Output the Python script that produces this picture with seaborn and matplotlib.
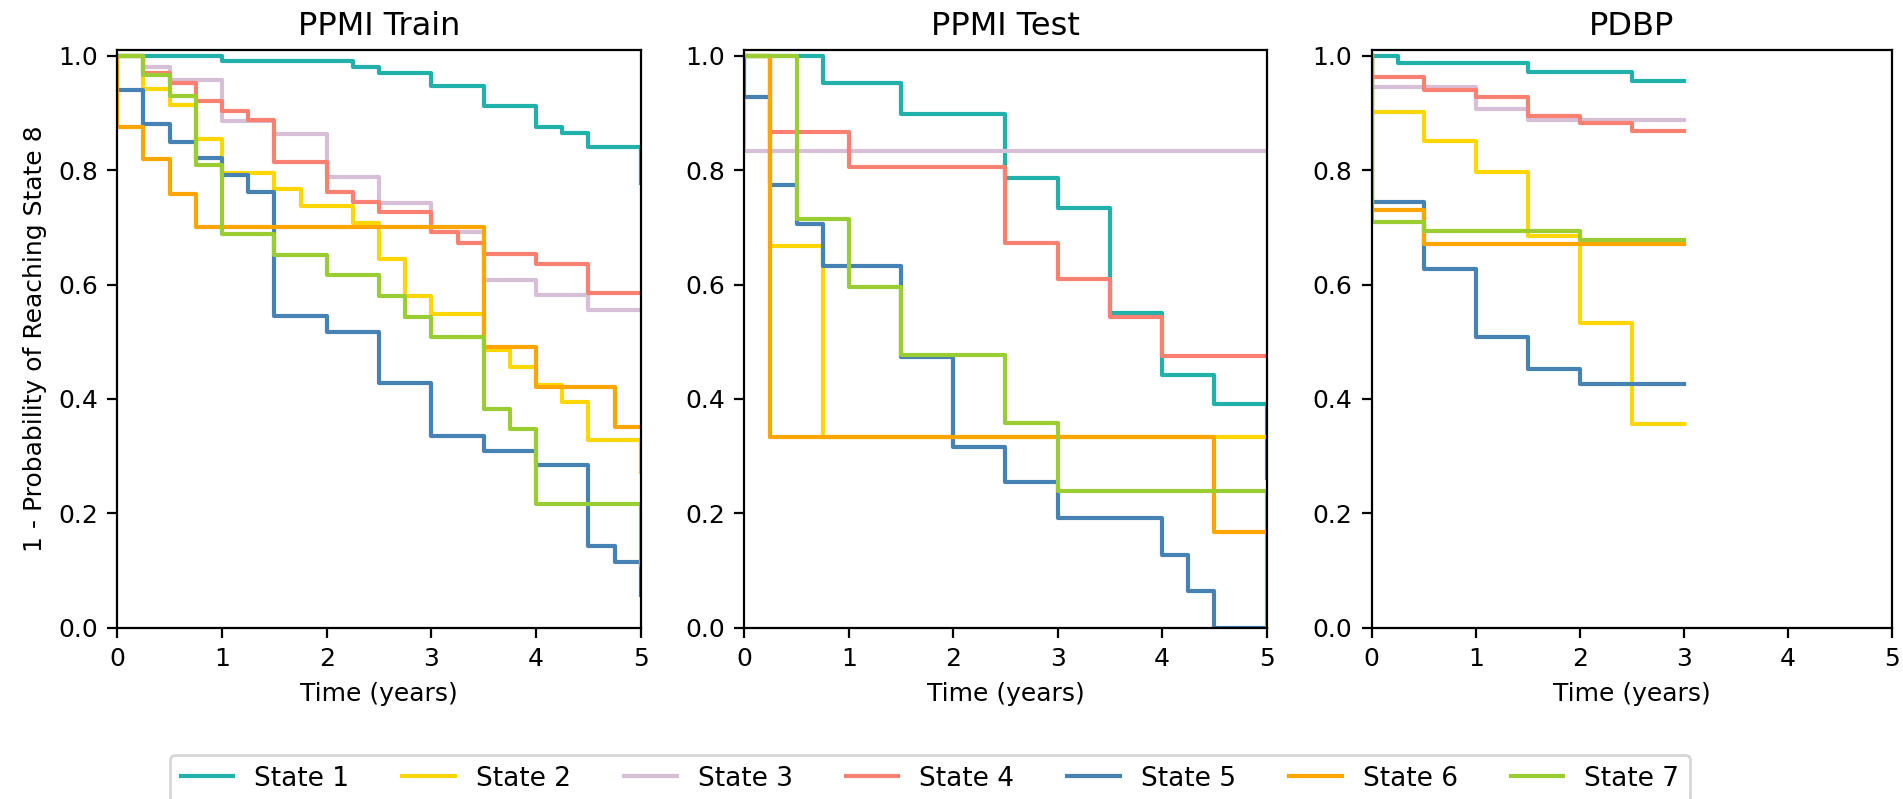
import matplotlib
matplotlib.use("Agg")
import matplotlib.pyplot as plt
import seaborn as sns
import pandas as pd

STATES = ["State 1", "State 2", "State 3", "State 4", "State 5", "State 6", "State 7"]
COLORS = ["#20B2AA", "#FFD700", "#D8BFD8", "#FA8072", "#4682B4", "#FFA500", "#9ACD32"]
PANEL_TITLES = ["PPMI Train", "PPMI Test", "PDBP"]
Y_LABEL = "1 - Probability of Reaching State 8"
X_LABEL = "Time (years)"
X_TICKS = [0, 1, 2, 3, 4, 5]
Y_TICKS = [0.0, 0.2, 0.4, 0.6, 0.8, 1.0]

# Kaplan-Meier style step curves: event times (years) and survival values
train_times = {
    "State 1": [0, 1.0, 2.25, 2.5, 3.0, 3.5, 4.0, 4.25, 4.5, 5.0],
    "State 2": [0, 0.25, 0.5, 0.75, 1.0, 1.5, 1.75, 2.25, 2.5, 2.75, 3.0, 3.5, 3.75, 4.0, 4.25, 4.5, 5.0],
    "State 3": [0, 0.25, 0.5, 1.0, 1.5, 2.0, 2.5, 3.0, 3.5, 4.0, 4.5, 5.0],
    "State 4": [0, 0.25, 0.5, 0.75, 1.0, 1.25, 1.5, 2.0, 2.25, 2.5, 3.0, 3.25, 3.5, 4.0, 4.5, 5.0],
    "State 5": [0, 0, 0.25, 0.5, 0.75, 1.0, 1.25, 1.5, 2.0, 2.5, 3.0, 3.5, 4.0, 4.5, 4.75, 5.0],
    "State 6": [0, 0, 0.25, 0.5, 0.75, 3.5, 4.0, 4.75, 5.0],
    "State 7": [0, 0.25, 0.5, 0.75, 1.0, 1.5, 2.0, 2.5, 2.75, 3.0, 3.5, 3.75, 4.0, 5.0],
}
train_surv = {
    "State 1": [1.0, 0.990, 0.981, 0.969, 0.947, 0.912, 0.876, 0.865, 0.841, 0.777],
    "State 2": [1.0, 0.942, 0.914, 0.855, 0.795, 0.767, 0.738, 0.708, 0.644, 0.580, 0.548, 0.486, 0.455, 0.424, 0.394, 0.328, 0.273],
    "State 3": [1.0, 0.980, 0.958, 0.886, 0.864, 0.788, 0.742, 0.691, 0.608, 0.582, 0.555, 0.555],
    "State 4": [1.0, 0.970, 0.953, 0.920, 0.904, 0.888, 0.815, 0.762, 0.744, 0.726, 0.691, 0.673, 0.653, 0.635, 0.586, 0.586],
    "State 5": [1.0, 0.940, 0.880, 0.850, 0.822, 0.791, 0.762, 0.545, 0.517, 0.427, 0.335, 0.309, 0.284, 0.142, 0.114, 0.057],
    "State 6": [1.0, 0.875, 0.819, 0.759, 0.701, 0.491, 0.421, 0.351, 0.351],
    "State 7": [1.0, 0.966, 0.930, 0.809, 0.688, 0.651, 0.617, 0.580, 0.544, 0.509, 0.382, 0.347, 0.217, 0.110],
}

test_times = {
    "State 1": [0, 0.75, 1.5, 2.5, 3.0, 3.5, 4.0, 4.5, 5.0],
    "State 2": [0, 0.25, 0.75, 5.0],
    "State 3": [0, 0, 5.0],
    "State 4": [0, 0.25, 1.0, 2.5, 3.0, 3.5, 4.0, 5.0],
    "State 5": [0, 0, 0.25, 0.5, 0.75, 1.5, 2.0, 2.5, 3.0, 4.0, 4.25, 4.5, 5.0],
    "State 6": [0, 0.25, 4.5, 5.0],
    "State 7": [0, 0.5, 1.0, 1.5, 2.5, 3.0, 5.0],
}
test_surv = {
    "State 1": [1.0, 0.952, 0.898, 0.787, 0.734, 0.550, 0.442, 0.391, 0.261],
    "State 2": [1.0, 0.667, 0.333, 0.333],
    "State 3": [1.0, 0.833, 0.833],
    "State 4": [1.0, 0.867, 0.806, 0.672, 0.610, 0.544, 0.475, 0.475],
    "State 5": [1.0, 0.928, 0.774, 0.705, 0.633, 0.474, 0.316, 0.255, 0.191, 0.127, 0.064, 0.0, 0.0],
    "State 6": [1.0, 0.333, 0.167, 0.167],
    "State 7": [1.0, 0.714, 0.596, 0.477, 0.358, 0.239, 0.0],
}

pdbp_times = {
    "State 1": [0, 0.25, 1.5, 2.5, 3.0],
    "State 2": [0, 0, 0.5, 1.0, 1.5, 2.0, 2.5, 3.0],
    "State 3": [0, 0, 1.0, 1.5, 3.0],
    "State 4": [0, 0, 0.5, 1.0, 1.5, 2.0, 2.5, 3.0],
    "State 5": [0, 0, 0.5, 1.0, 1.5, 2.0, 3.0],
    "State 6": [0, 0, 0.5, 3.0],
    "State 7": [0, 0, 0.5, 2.0, 3.0],
}
pdbp_surv = {
    "State 1": [1.0, 0.987, 0.971, 0.955, 0.955],
    "State 2": [1.0, 0.901, 0.851, 0.797, 0.685, 0.532, 0.356, 0.356],
    "State 3": [1.0, 0.945, 0.906, 0.887, 0.887],
    "State 4": [1.0, 0.963, 0.940, 0.927, 0.895, 0.882, 0.868, 0.868],
    "State 5": [1.0, 0.745, 0.627, 0.509, 0.452, 0.426, 0.426],
    "State 6": [1.0, 0.731, 0.671, 0.671],
    "State 7": [1.0, 0.710, 0.694, 0.678, 0.678],
}

panels = [(train_times, train_surv), (test_times, test_surv), (pdbp_times, pdbp_surv)]

W, H = 1903, 799
fig = plt.figure(figsize=(W / 200, H / 200), dpi=200)

ax_top, ax_bottom = 50.0, 627.7
ax_lr = [(117.3, 640.8), (744.3, 1266.7), (1371.7, 1892.0)]
axes = []
for left, right in ax_lr:
    axes.append(fig.add_axes([left / W, 1 - ax_bottom / H,
                              (right - left) / W, (ax_bottom - ax_top) / H]))

for ax, title, (times, surv) in zip(axes, PANEL_TITLES, panels):
    for state, color in zip(STATES, COLORS):
        df = pd.DataFrame({"t": times[state], "s": surv[state]})
        sns.lineplot(data=df, x="t", y="s", ax=ax, color=color, lw=1.5,
                     estimator=None, sort=False, drawstyle="steps-post",
                     label=state, legend=False)
    ax.set_xlim(0, 5)
    ax.set_ylim(0, 1.01)
    ax.set_xticks(X_TICKS)
    ax.set_yticks(Y_TICKS)
    ax.set_xticklabels([str(v) for v in X_TICKS])
    ax.set_yticklabels([f"{v:.1f}" for v in Y_TICKS])
    ax.tick_params(labelsize=9)
    ax.set_title(title, fontsize=11.5, pad=5.5)
    ax.set_xlabel(X_LABEL, fontsize=9)
    ax.set_ylabel("")

axes[0].set_ylabel(Y_LABEL, fontsize=9)

handles, labels = axes[0].get_legend_handles_labels()
fig.legend(handles, labels, loc="upper left", ncol=7,
           bbox_to_anchor=(170 / W, 1 - 755 / H), borderaxespad=0,
           fontsize=9.5, frameon=True)

fig.savefig("out.png", dpi=200)
